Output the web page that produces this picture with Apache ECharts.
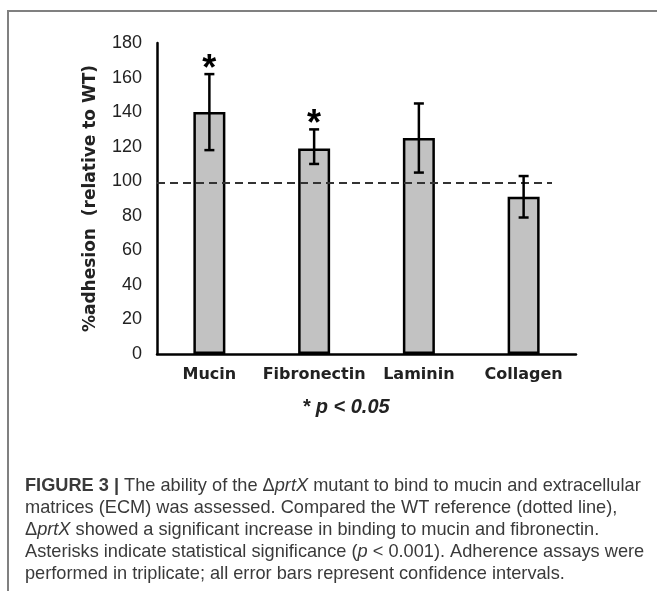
<!DOCTYPE html>
<html>
<head>
<meta charset="utf-8">
<script src="https://cdn.jsdelivr.net/npm/echarts@6/dist/echarts.min.js"></script>
<style>
  html, body { margin: 0; padding: 0; background: #fff; }
  #chart { width: 657px; height: 591px; }
</style>
</head>
<body>
<div id="chart"></div>
<script>
// values
const categories = ['Mucin', 'Fibronectin', 'Laminin', 'Collagen']
const adhesion = [140, 119, 125, 91]
const ciLow = [118, 110, 105, 79]
const ciHigh = [162, 130, 145, 103]
const significant = [true, true, false, false]
const wtReference = 99
const yTicks = [0, 180, 20] // min, max, step

const captionLines = [
  '{b|FIGURE 3 |} The ability of the Δ{i|prtX} mutant to bind to mucin and extracellular',
  'matrices (ECM) was assessed. Compared the WT reference (dotted line),',
  'Δ{i|prtX} showed a significant increase in binding to mucin and fibronectin.',
  'Asterisks indicate statistical significance ({i|p} < 0.001). Adherence assays were',
  'performed in triplicate; all error bars represent confidence intervals.'
]

const chart = echarts.init(document.getElementById('chart'))

const errorData = categories.map((c, i) => [i, ciLow[i], ciHigh[i], significant[i] ? 1 : 0])

/**
 * error bar with caps, plus asterisk for significant ones
 */
function renderErrorBar(params, api) {
  const x = api.value(0)
  const lo = api.coord([x, api.value(1)])
  const hi = api.coord([x, api.value(2)])
  const cap = 5
  const lineStyle = { stroke: '#000', lineWidth: 2.5 }
  const children = [
    { type: 'line', shape: { x1: lo[0], y1: lo[1], x2: hi[0], y2: hi[1] }, style: lineStyle },
    { type: 'line', shape: { x1: lo[0] - cap, y1: lo[1], x2: lo[0] + cap, y2: lo[1] }, style: lineStyle },
    { type: 'line', shape: { x1: hi[0] - cap, y1: hi[1], x2: hi[0] + cap, y2: hi[1] }, style: lineStyle }
  ]
  if (api.value(3)) {
    children.push({
      type: 'text',
      x: hi[0],
      y: hi[1] - 4,
      style: {
        text: '*',
        fill: '#000',
        font: 'bold 36px "Liberation Sans"',
        align: 'center',
        verticalAlign: 'middle'
      }
    })
  }
  return { type: 'group', children }
}

const gridLeft = 157
const gridRight = 81
const captionFont = 18.2
const captionColor = '#3a3a3a'

chart.setOption({
  animation: false,
  backgroundColor: '#fff',
  grid: { left: gridLeft, right: gridRight, top: 43, bottom: 237 },
  xAxis: {
    type: 'category',
    data: categories,
    axisLine: { lineStyle: { color: '#000', width: 2.5 } },
    axisTick: { show: false },
    axisLabel: {
      interval: 0,
      margin: 13,
      color: '#222',
      fontFamily: 'DejaVu Sans',
      fontWeight: 'bold',
      fontSize: 16
    }
  },
  yAxis: {
    type: 'value',
    min: yTicks[0],
    max: yTicks[1],
    interval: yTicks[2],
    name: '%adhesion  (relative to WT)',
    nameLocation: 'middle',
    nameGap: 58,
    nameTextStyle: {
      color: '#222',
      fontFamily: 'DejaVu Sans',
      fontWeight: 'bold',
      fontSize: 17
    },
    axisLine: { show: true, lineStyle: { color: '#000', width: 2.5 } },
    axisTick: { show: false },
    splitLine: { show: false },
    axisLabel: {
      margin: 15,
      color: '#222',
      fontFamily: 'Liberation Sans',
      fontSize: 18
    }
  },
  series: [
    {
      type: 'bar',
      data: adhesion,
      barWidth: 32,
      itemStyle: { color: '#c2c2c2', borderColor: '#000', borderWidth: 2.5 },
      markLine: {
        silent: true,
        symbol: 'none',
        label: { show: false },
        lineStyle: { color: '#333', type: [8, 5], width: 1.8 },
        data: [[{ yAxis: wtReference, x: gridLeft }, { yAxis: wtReference, x: 552 }]]
      }
    },
    {
      type: 'custom',
      data: errorData,
      renderItem: renderErrorBar,
      z: 5
    }
  ],
  graphic: [
    {
      type: 'polyline',
      shape: { points: [[8, 591], [8, 11], [657, 11]] },
      style: { stroke: '#808080', lineWidth: 2, fill: null }
    },
    {
      type: 'text',
      x: 346,
      y: 407,
      style: {
        text: '* p < 0.05',
        fill: '#222',
        font: 'italic bold 20px "Liberation Sans"',
        align: 'center',
        verticalAlign: 'middle'
      }
    },
    {
      type: 'text',
      x: 25,
      y: 475,
      style: {
        text: captionLines.join('\n'),
        fill: captionColor,
        font: captionFont + 'px "Liberation Sans"',
        verticalAlign: 'top',
        lineHeight: 22,
        rich: {
          b: { fontWeight: 'bold', fontSize: captionFont, fontFamily: 'Liberation Sans', fill: captionColor, lineHeight: 22 },
          i: { fontStyle: 'italic', fontSize: captionFont, fontFamily: 'Liberation Sans', fill: captionColor, lineHeight: 22 }
        }
      }
    }
  ]
})
</script>
</body>
</html>
